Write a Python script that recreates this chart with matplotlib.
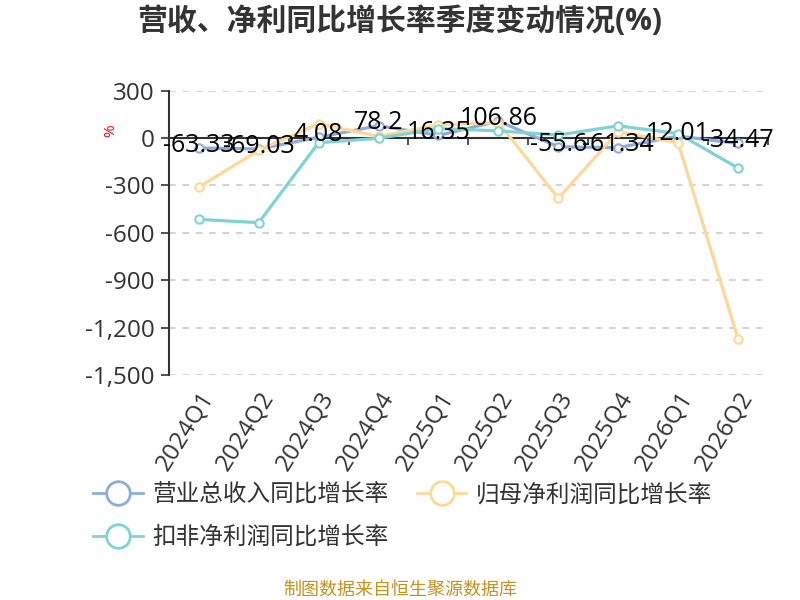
import matplotlib
matplotlib.use('Agg')
import matplotlib.pyplot as plt
from matplotlib.lines import Line2D
from matplotlib.ticker import FuncFormatter

plt.rcParams['font.family'] = ['Open Sans', 'Noto Sans CJK SC', 'DejaVu Sans']

quarters = ['2024Q1', '2024Q2', '2024Q3', '2024Q4', '2025Q1',
            '2025Q2', '2025Q3', '2025Q4', '2026Q1', '2026Q2']
revenue = [-63.33, -69.03, 4.08, 78.2, 16.35, 106.86, -55.6, -61.34, 12.01, -34.47]
net_profit = [-311, -78, 91, 10, 83, 98, -381, 40, -30, -1270]
deducted = [-515, -536, -30, -2, 60, 45, 19, 77, 28, -190]
names = ['营业总收入同比增长率', '归母净利润同比增长率', '扣非净利润同比增长率']
colors = ['#8FAADC', '#FFD898', '#7ED3D6']
yticks = [300, 0, -300, -600, -900, -1200, -1500]

fig = plt.figure(figsize=(8, 6), dpi=100)
ax = fig.add_axes([0.211, 0.375, 0.749, 0.474])

x = list(range(len(quarters)))
for vals, c in zip([revenue, net_profit, deducted], colors):
    ax.plot(x, vals, color=c, lw=2.3, marker='o', ms=6, mfc='white',
            mec=c, mew=1.5, zorder=3)

for xi, v in zip(x, revenue):
    ax.annotate('{:g}'.format(v), (xi, v), xytext=(0, 2), textcoords='offset points',
                ha='center', va='center', fontsize=18, color='black', zorder=5)

ax.set_xlim(-0.5, len(quarters) - 0.5)
ax.set_ylim(-1500, 300)
ax.set_yticks(yticks)
ax.yaxis.set_major_formatter(FuncFormatter(lambda v, p: '{:,.0f}'.format(v)))
ax.tick_params(axis='y', length=6, width=1.2, color='#333333',
               labelcolor='#333333', labelsize=17.5, pad=4)
ax.grid(axis='y', color='#cccccc', lw=1.2, linestyle=(0, (4, 4)))
ax.set_axisbelow(True)

for s in ['top', 'right']:
    ax.spines[s].set_visible(False)
ax.spines['left'].set_color('#333333')
ax.spines['left'].set_linewidth(1.5)
ax.spines['bottom'].set_position(('data', 0))
ax.spines['bottom'].set_color('#333333')
ax.spines['bottom'].set_linewidth(1.5)
ax.set_xticks([i - 0.5 for i in range(len(quarters) + 1)])
ax.set_xticklabels([])
ax.tick_params(axis='x', length=5, width=1.2, color='#333333')

sec = ax.secondary_xaxis(0)
sec.set_xticks(x)
sec.set_xticklabels(quarters, rotation=58, ha='right', va='top',
                    rotation_mode='anchor', fontsize=17.5, color='#333333')
sec.tick_params(length=0, pad=9)
sec.spines['bottom'].set_visible(False)

ax.set_ylabel('%', color='red', fontsize=11, labelpad=30)
ax.yaxis.set_label_coords(-0.085, 0.86)

fig.text(0.5, 1 - 22 / 600, '营收、净利同比增长率季度变动情况(%)', ha='center',
         va='center', fontsize=21.5, fontweight='bold', color='#333333')

handles = [Line2D([], [], color=c, lw=2, marker='o', ms=17, mfc='white',
                  mec=c, mew=2) for c in colors]
order = [0, 2, 1]
fig.legend([handles[i] for i in order], [names[i] for i in order],
           loc='upper left', bbox_to_anchor=(0.09, 0.23), ncol=2,
           frameon=False, fontsize=17, handlelength=2.1, handletextpad=0.4,
           columnspacing=1.2, labelspacing=0.8, labelcolor='#333333')

fig.text(0.5, 1 - 590 / 600, '制图数据来自恒生聚源数据库', ha='center', va='center',
         fontsize=13, color='#C8901E')

fig.savefig('out.png', dpi=100)
